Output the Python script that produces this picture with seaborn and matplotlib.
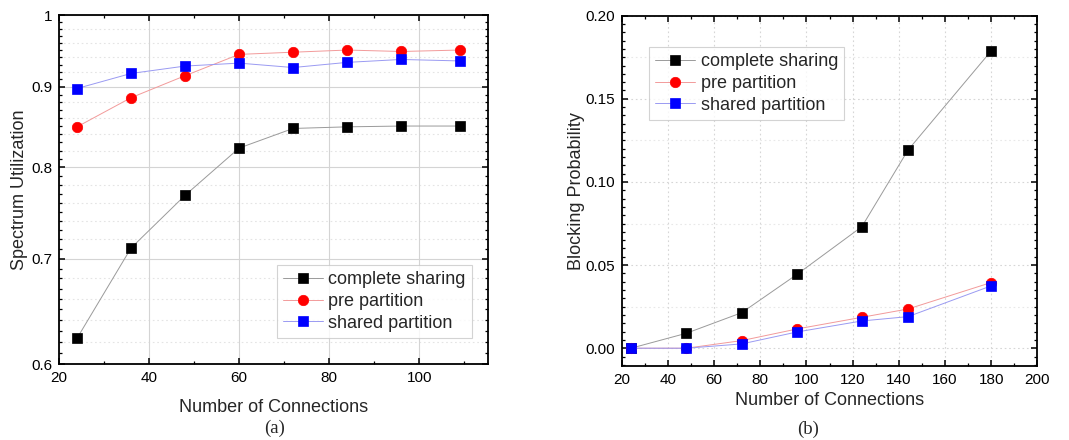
import numpy as np
import pandas as pd
import matplotlib
matplotlib.use("Agg")
import matplotlib.pyplot as plt
from matplotlib.ticker import FixedLocator, NullFormatter, MultipleLocator
import seaborn as sns

# ---- data: (a) spectrum utilization ----
conn_a = [24, 36, 48, 60, 72, 84, 96, 109]
util_complete = [0.623, 0.711, 0.768, 0.823, 0.847, 0.849, 0.850, 0.850]
util_pre = [0.849, 0.886, 0.915, 0.944, 0.947, 0.950, 0.948, 0.950]
util_shared = [0.898, 0.918, 0.928, 0.932, 0.926, 0.933, 0.937, 0.935]

# ---- data: (b) blocking probability ----
conn_b = [24, 48, 72, 96, 124, 144, 180]
block_complete = [0.0, 0.009, 0.0214, 0.0445, 0.0731, 0.1192, 0.1788]
block_pre = [0.0, 0.0, 0.0046, 0.0116, 0.0186, 0.0236, 0.0395]
block_shared = [0.0, 0.0, 0.0026, 0.0098, 0.0164, 0.0190, 0.0375]

series_names = ["complete sharing", "pre partition", "shared partition"]
util_ticks = [0.6, 0.7, 0.8, 0.9, 1.0]
util_ticklabels = ["0.6", "0.7", "0.8", "0.9", "1"]
block_ticks = [0.0, 0.05, 0.10, 0.15, 0.20]
block_ticklabels = ["0.00", "0.05", "0.10", "0.15", "0.20"]

sns.set_theme(style="white")
plt.rcParams["font.family"] = ["Liberation Sans", "DejaVu Sans"]
plt.rcParams["axes.linewidth"] = 1.2

# line colour, marker colour, marker shape, marker size
styles = [
    ("#9a9a9a", "black", "s", 6.5),
    ("#f29a9a", "red", "o", 7.5),
    ("#9a9af2", "blue", "s", 6.5),
]

fig = plt.figure(figsize=(10.69, 4.40), dpi=100)
ax_a = fig.add_axes([0.0552, 0.1727, 0.4013, 0.7932])
ax_b = fig.add_axes([0.5816, 0.1689, 0.3888, 0.7955])


def draw_series(ax, x, ys):
    for name, y, (lc, mc, mk, ms) in zip(series_names, ys, styles):
        df = pd.DataFrame({"x": x, "y": y})
        sns.lineplot(data=df, x="x", y="y", ax=ax, color=lc, linewidth=0.7,
                     marker=mk, markersize=ms, markerfacecolor=mc,
                     markeredgecolor=mc, markeredgewidth=0.5, label=name,
                     zorder=3)


def style_ticks(ax):
    ax.tick_params(which="both", direction="in", top=True, right=True,
                   bottom=True, left=True, colors="black", labelsize=11)
    ax.tick_params(which="major", length=4.5, width=1.1, pad=5)
    ax.tick_params(which="minor", length=2.5, width=0.9)
    for s in ax.spines.values():
        s.set_color("black")
        s.set_linewidth(1.3)


def add_legend(ax, loc, anchor):
    leg = ax.legend(loc=loc, bbox_to_anchor=anchor, fontsize=13,
                    frameon=True, fancybox=False, edgecolor="#c8c8c8",
                    handlelength=2.2, handletextpad=0.3, borderpad=0.35,
                    labelspacing=0.25, borderaxespad=0)
    leg.get_frame().set_linewidth(0.8)
    return leg


# ---- panel (a) ----
draw_series(ax_a, conn_a, [util_complete, util_pre, util_shared])
ax_a.set_yscale("log")
ax_a.set_xlim(20, 115.3)
ax_a.set_ylim(0.6, 1.0)
ax_a.yaxis.set_major_locator(FixedLocator(util_ticks))
ax_a.set_yticklabels(util_ticklabels)
ax_a.yaxis.set_minor_locator(FixedLocator(np.arange(0.61, 0.995, 0.01)))
ax_a.yaxis.set_minor_formatter(NullFormatter())
ax_a.xaxis.set_major_locator(FixedLocator([20, 40, 60, 80, 100]))
ax_a.xaxis.set_minor_locator(FixedLocator([30, 50, 70, 90, 110]))
ax_a.grid(which="major", color="#d4d4d4", linewidth=0.8, linestyle="-")
for yv in [0.62, 0.64, 0.66, 0.68, 0.72, 0.74, 0.76, 0.78, 0.82, 0.84,
           0.86, 0.88, 0.92, 0.94, 0.96, 0.98]:
    ax_a.axhline(yv, color="#e4e4e4", linewidth=0.8, linestyle=(0, (1.5, 2.5)),
                 zorder=0)
ax_a.set_xlabel("Number of Connections", fontsize=13, labelpad=10)
ax_a.set_ylabel("Spectrum Utilization", fontsize=13, labelpad=2)
style_ticks(ax_a)
add_legend(ax_a, "lower right", (0.963, 0.075))

# ---- panel (b) ----
draw_series(ax_b, conn_b, [block_complete, block_pre, block_shared])
ax_b.set_xlim(20, 200)
ax_b.set_ylim(-0.0105, 0.2)
ax_b.yaxis.set_major_locator(FixedLocator(block_ticks))
ax_b.set_yticklabels(block_ticklabels)
ax_b.yaxis.set_minor_locator(MultipleLocator(0.005))
ax_b.xaxis.set_major_locator(MultipleLocator(20))
ax_b.xaxis.set_minor_locator(MultipleLocator(10))
ax_b.grid(which="major", color="#d6d6d6", linewidth=0.8,
          linestyle=(0, (1.5, 2.5)))
for yv in [0.025, 0.075, 0.125, 0.175]:
    ax_b.axhline(yv, color="#e8e8e8", linewidth=0.8, linestyle=(0, (1.5, 2.5)),
                 zorder=0)
ax_b.set_xlabel("Number of Connections", fontsize=13, labelpad=4)
ax_b.set_ylabel("Blocking Probability", fontsize=13, labelpad=0)
style_ticks(ax_b)
add_legend(ax_b, "upper left", (0.066, 0.91))

# panel captions
fig.text(0.2565, 0.026, "(a)", ha="center", va="center", fontsize=13.5,
         family=["Liberation Serif", "DejaVu Serif"])
fig.text(0.7555, 0.024, "(b)", ha="center", va="center", fontsize=13.5,
         family=["Liberation Serif", "DejaVu Serif"])

fig.savefig("out.png", dpi=100, facecolor="white")
